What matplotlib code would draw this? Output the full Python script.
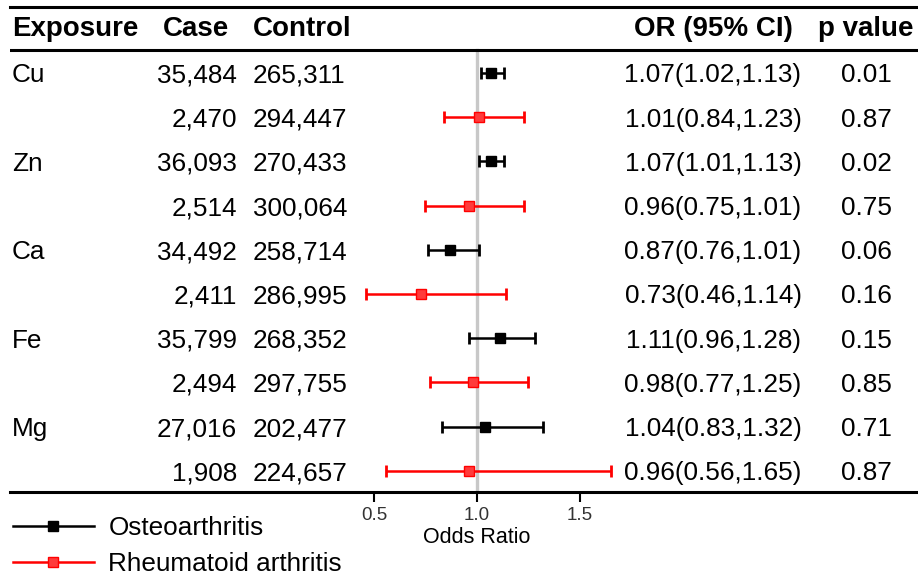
import numpy as np
import matplotlib
matplotlib.use("Agg")
import matplotlib.pyplot as plt
from matplotlib.lines import Line2D
from matplotlib.transforms import blended_transform_factory

plt.rcParams["font.family"] = ["Liberation Sans", "DejaVu Sans"]

# data
metals = ["Cu", "Zn", "Ca", "Fe", "Mg"]
oa_case = [35484, 36093, 34492, 35799, 27016]
oa_control = [265311, 270433, 258714, 268352, 202477]
ra_case = [2470, 2514, 2411, 2494, 1908]
ra_control = [294447, 300064, 286995, 297755, 224657]

oa_or = [1.07, 1.07, 0.87, 1.11, 1.04]
oa_lo = [1.02, 1.01, 0.76, 0.96, 0.83]
oa_hi = [1.13, 1.13, 1.01, 1.28, 1.32]
ra_or = [1.01, 0.96, 0.73, 0.98, 0.96]
ra_lo = [0.84, 0.75, 0.46, 0.77, 0.56]
ra_hi = [1.23, 1.23, 1.14, 1.25, 1.65]  # Zn bar is drawn to ~1.23 in the source

oa_ci_text = ["1.07(1.02,1.13)", "1.07(1.01,1.13)", "0.87(0.76,1.01)",
              "1.11(0.96,1.28)", "1.04(0.83,1.32)"]
ra_ci_text = ["1.01(0.84,1.23)", "0.96(0.75,1.01)", "0.73(0.46,1.14)",
              "0.98(0.77,1.25)", "0.96(0.56,1.65)"]
oa_p = ["0.01", "0.02", "0.06", "0.15", "0.71"]
ra_p = ["0.87", "0.75", "0.16", "0.85", "0.87"]

headers = ["Exposure", "Case", "Control", "OR (95% CI)", "p value"]
xticks = [0.5, 1.0, 1.5]
xtick_labels = ["0.5", "1.0", "1.5"]
outcomes = ["Osteoarthritis", "Rheumatoid arthritis"]

OA_COL = "black"
RA_COL = "#ff0000"
BODY = 18.8
HEAD = 20

fig = plt.figure(figsize=(9.18, 5.75), dpi=100)
W, H = 918, 575
ax = fig.add_axes([10 / W, 83 / H, 908 / W, 485 / H])

# x: pixel 477 -> OR 1.0, 206 px per unit
ax.set_xlim(1 - 467 / 206, 1 + 441 / 206)
ax.set_ylim(9.48, -1.493)

oa_y = np.arange(len(metals)) * 2
ra_y = oa_y + 1

ax.axvline(1.0, ymin=0, ymax=(9.48 + 0.51) / (9.48 + 1.493), color="#c8c8c8", lw=2.4, zorder=1)

ax.errorbar(oa_or, oa_y, xerr=[np.subtract(oa_or, oa_lo), np.subtract(oa_hi, oa_or)],
            fmt="s", color=OA_COL, ms=7, elinewidth=1.8, capsize=4.5, capthick=2.0, zorder=3)
ax.errorbar(ra_or, ra_y, xerr=[np.subtract(ra_or, ra_lo), np.subtract(ra_hi, ra_or)],
            fmt="s", color=RA_COL, mfc="#ff3b3b", ms=7.5, elinewidth=1.8, capsize=4.5,
            capthick=2.0, zorder=3)

# table lines
ax.axhline(-0.51, color="black", lw=2.2)
for s in ["left", "right"]:
    ax.spines[s].set_visible(False)
ax.spines["top"].set_linewidth(2.2)
ax.spines["bottom"].set_linewidth(2.2)
ax.set_yticks([])
ax.set_xticks(xticks)
ax.set_xticklabels(xtick_labels)
ax.tick_params(axis="x", length=7, width=1.5, pad=4, labelsize=13.5, labelcolor="#333333")
ax.text(1.0, -0.093, "Odds Ratio", transform=blended_transform_factory(ax.transData, ax.transAxes),
        ha="center", va="center", fontsize=15.5)

# table text
tr = blended_transform_factory(fig.transFigure, ax.transData)
col_x = [12 / W, 163 / W, 253 / W, 713 / W, 866 / W]
head_ha = ["left", "left", "left", "center", "center"]
for x, h, ha in zip(col_x, headers, head_ha):
    ax.text(x, -1.0, h, transform=tr, ha=ha, va="center", fontsize=HEAD, fontweight="bold")

case_x = 237 / W
for i, m in enumerate(metals):
    rows = [(oa_y[i], m, oa_case[i], oa_control[i], oa_ci_text[i], oa_p[i]),
            (ra_y[i], "", ra_case[i], ra_control[i], ra_ci_text[i], ra_p[i])]
    for y, name, case, ctrl, ci, p in rows:
        ax.text(col_x[0], y, name, transform=tr, ha="left", va="center_baseline", fontsize=BODY)
        ax.text(case_x, y, f"{case:,}", transform=tr, ha="right", va="center_baseline", fontsize=BODY)
        ax.text(col_x[2], y, f"{ctrl:,}", transform=tr, ha="left", va="center_baseline", fontsize=BODY)
        ax.text(col_x[3], y, ci, transform=tr, ha="center", va="center_baseline", fontsize=BODY)
        ax.text(col_x[4], y, p, transform=tr, ha="center", va="center_baseline", fontsize=BODY)

handles = [Line2D([], [], color=OA_COL, lw=1.8, marker="s", ms=7),
           Line2D([], [], color=RA_COL, lw=1.8, marker="s", ms=7, mfc="#ff3b3b")]
fig.legend(handles, outcomes, loc="upper left", bbox_to_anchor=(13 / W, 1 - 516 / H),
           frameon=False, fontsize=BODY, handlelength=3.1, handletextpad=0.55,
           labelspacing=0.46, borderpad=0, borderaxespad=0)

fig.savefig("out.png", dpi=100)
